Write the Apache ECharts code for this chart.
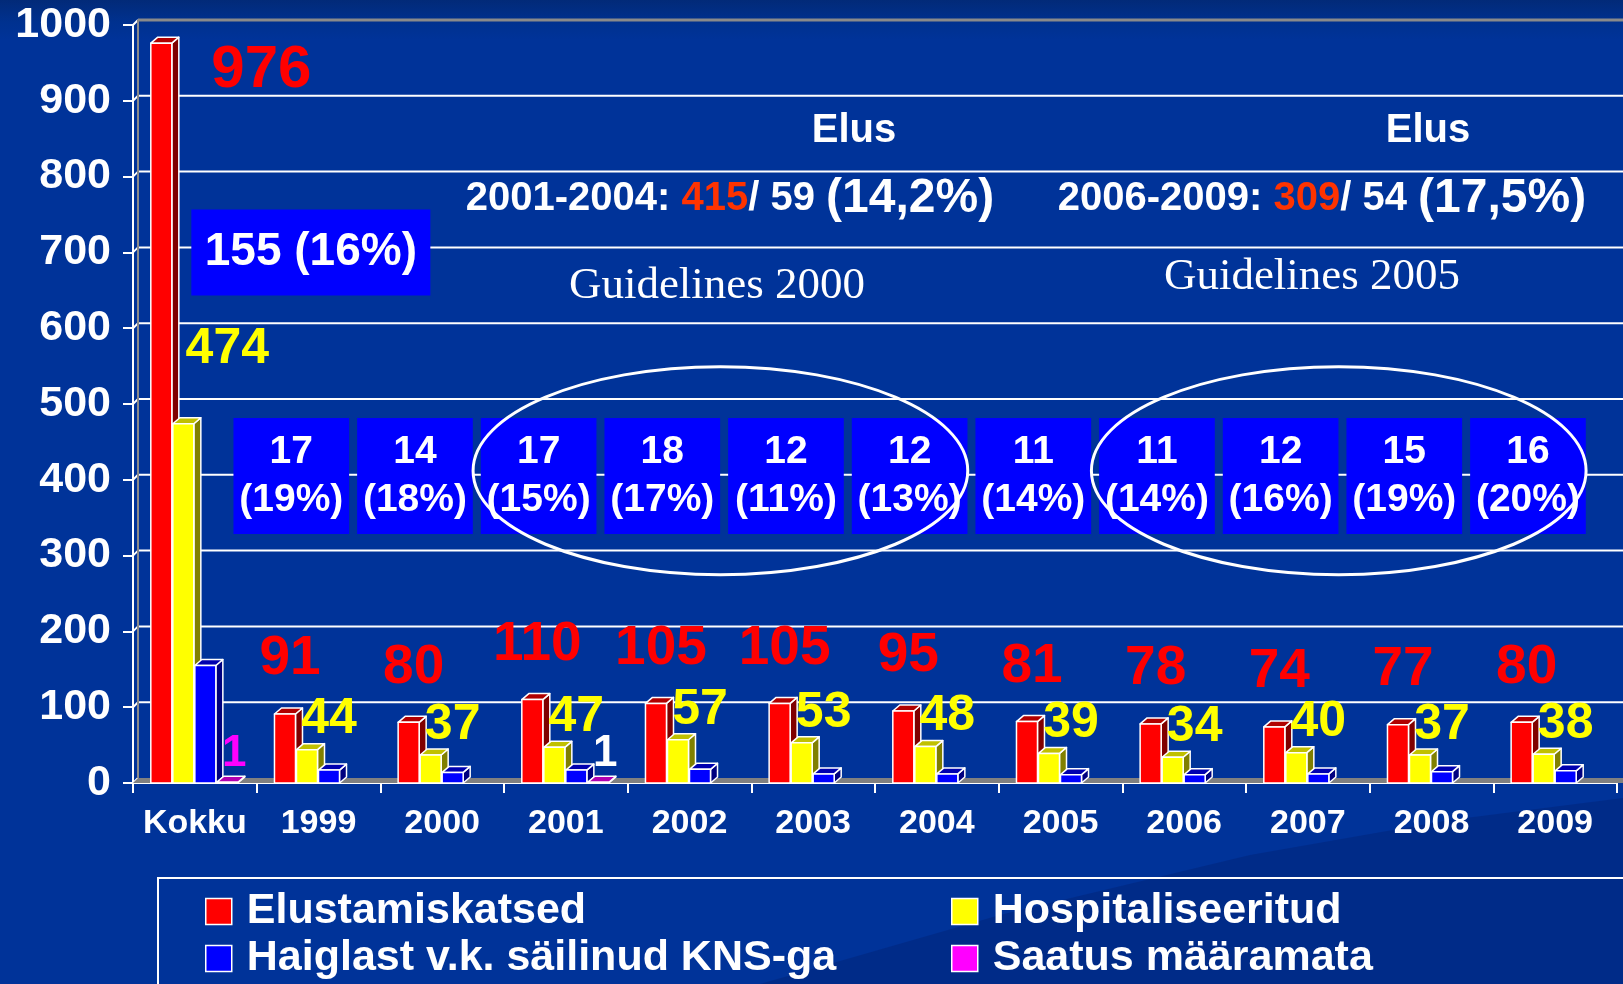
<!DOCTYPE html>
<html>
<head>
<meta charset="utf-8">
<script src="https://cdn.jsdelivr.net/npm/echarts@6/dist/echarts.min.js"></script>
<style>
  html, body { margin: 0; padding: 0; }
  #main { width: 1623px; height: 984px; background: linear-gradient(to bottom, #022a78 0px, #00318f 22px, #003399 40px, #003399 100%); }
</style>
</head>
<body>
<div id="main"></div>
<script>
// andmed
const categories = ['Kokku', '1999', '2000', '2001', '2002', '2003', '2004', '2005', '2006', '2007', '2008', '2009'];
const attempts = [976, 91, 80, 110, 105, 105, 95, 81, 78, 74, 77, 80];      // Elustamiskatsed
const hospitalised = [474, 44, 37, 47, 57, 53, 48, 39, 34, 40, 37, 38];    // Hospitaliseeritud
const survivedCns = [155, 17, 14, 17, 18, 12, 12, 11, 11, 12, 15, 16];     // Haiglast v.k. säilinud KNS-ga
const undetermined = [1, 0, 0, 1, 0, 0, 0, 0, 0, 0, 0, 0];                // Saatus määramata
const yTicks = [0, 100, 200, 300, 400, 500, 600, 700, 800, 900, 1000];
const periods = [
  { label: '2001-2004', from: 3, to: 6, guideline: 'Guidelines 2000' },
  { label: '2006-2009', from: 8, to: 11, guideline: 'Guidelines 2005' }
];

const FONT = '"Liberation Sans", Arial, sans-serif';
const SERIF = '"Liberation Serif", "Times New Roman", serif';
const DX = 7, DY = -6;

const sum = (arr, a, b) => arr.slice(a, b + 1).reduce((s, v) => s + v, 0);
const pct = (a, b) => Math.round(a / b * 100);

const chart = echarts.init(document.getElementById('main'));

function txt(text, x, y, color, size, extra) {
  return {
    type: 'text', x: x, y: y, z2: 10,
    style: Object.assign({
      text: text, fill: color, font: 'bold ' + size + 'px ' + FONT,
      align: 'center', verticalAlign: 'middle'
    }, extra || {})
  };
}

// 3D tulp: esikülg, pealmine ja külgmine tahk
function bar3d(name, values, slot, colors, labelFor) {
  return {
    type: 'custom',
    name: name,
    z: 3,
    itemStyle: { color: colors[0], borderColor: '#fff', borderWidth: 1.5 },
    data: values.map((v, i) => [i, v]),
    renderItem: function (params, api) {
      const i = api.value(0), v = api.value(1);
      const band = api.size([1, 0])[0];
      const base = api.coord([i, 0]);
      const tip = api.coord([i, v]);
      const slotW = band * 0.178;
      const x0 = base[0] + (slot - 1.5) * slotW - slotW / 2;
      const w = slotW - 1;
      const kids = [];
      if (v > 0) {
        const y0 = base[1], y1 = tip[1];
        const edge = { stroke: '#fff', lineWidth: 1.5, lineJoin: 'round' };
        kids.push(
          { type: 'polygon', shape: { points: [[x0 + w, y1], [x0 + w + DX, y1 + DY], [x0 + w + DX, y0 + DY], [x0 + w, y0]] }, style: Object.assign({ fill: colors[2] }, edge) },
          { type: 'polygon', shape: { points: [[x0, y1], [x0 + DX, y1 + DY], [x0 + w + DX, y1 + DY], [x0 + w, y1]] }, style: Object.assign({ fill: colors[1] }, edge) },
          { type: 'rect', shape: { x: x0, y: y1, width: w, height: y0 - y1 }, style: Object.assign({ fill: colors[0] }, edge) }
        );
      }
      const lab = labelFor(i, v, { x: x0 + w / 2, top: tip[1], band: band, center: base[0], api: api });
      if (lab) kids.push.apply(kids, [].concat(lab));
      return { type: 'group', children: kids };
    }
  };
}

function blueBox(cx, cy, w, h, text, size, lineHeight) {
  return [
    { type: 'rect', z2: 9, shape: { x: cx - w / 2, y: cy - h / 2, width: w, height: h }, style: { fill: '#0000FF' } },
    txt(text, cx, cy, '#fff', size, { lineHeight: lineHeight })
  ];
}

const series = [
  // tagasein, põrand ja abijooned
  {
    type: 'custom', z: 1, silent: true, data: [[0, 0]],
    renderItem: function (params, api) {
      const cs = params.coordSys;
      const right = cs.x + cs.width + 20;
      const yOf = v => api.coord([0, v])[1];
      const kids = [];
      yTicks.forEach(v => {
        const y = yOf(v);
        kids.push({ type: 'line', shape: { x1: cs.x, y1: y, x2: cs.x + 5, y2: y - 5 }, style: { stroke: '#fff', lineWidth: 2 } });
        if (v > 0 && v < 1000) {
          kids.push({ type: 'line', shape: { x1: cs.x + 5, y1: y - 5, x2: right, y2: y - 5 }, style: { stroke: '#fff', lineWidth: 2 } });
        }
      });
      kids.push({ type: 'line', shape: { x1: cs.x + 5, y1: yOf(1000) - 5, x2: right, y2: yOf(1000) - 5 }, style: { stroke: '#8a8a8a', lineWidth: 3 } });
      kids.push({ type: 'line', shape: { x1: cs.x + 5, y1: yOf(1000) - 5, x2: cs.x + 5, y2: yOf(0) - 5 }, style: { stroke: '#8a8a8a', lineWidth: 2 } });
      kids.push({ type: 'polygon', shape: { points: [[cs.x, yOf(0)], [cs.x + 5, yOf(0) - 5], [right, yOf(0) - 5], [right, yOf(0)]] }, style: { fill: '#808080' } });
      return { type: 'group', children: kids };
    }
  },
  bar3d('Elustamiskatsed', attempts, 0, ['#FF0000', '#B00000', '#800000'], function (i, v, g) {
    if (i === 0) return txt(String(v), g.x + 100, g.api.coord([0, 940])[1], '#FF0000', 60);
    return txt(String(v), g.x + 5, g.top - 55, '#FF0000', 55);
  }),
  bar3d('Hospitaliseeritud', hospitalised, 1, ['#FFFF00', '#C0C000', '#808000'], function (i, v, g) {
    if (i === 0) return txt(String(v), g.x + 44, g.api.coord([0, 572])[1], '#FFFF00', 50);
    return txt(String(v), g.x + 22, g.top - 30, '#FFFF00', 50);
  }),
  bar3d('Haiglast v.k. säilinud KNS-ga', survivedCns, 2, ['#0000FF', '#0000B0', '#000080'], function (i, v, g) {
    if (i === 0) {
      return blueBox(g.center + 116, g.api.coord([0, 700])[1], 239, 86, v + ' (' + pct(v, attempts[i]) + '%)', 46, 50);
    }
    return blueBox(g.center - 0.22 * g.band, g.api.coord([0, 405])[1], g.band - 8, 116, v + '\n(' + pct(v, attempts[i]) + '%)', 39, 48);
  }),
  bar3d('Saatus määramata', undetermined, 3, ['#FF00FF', '#B000B0', '#800080'], function (i, v, g) {
    if (v <= 0) return null;
    return txt(String(v), g.x + 7, g.top - 28, i === 0 ? '#FF00FF' : '#FFFFFF', 44);
  }),
  // ovaalid perioodide ümber
  {
    type: 'custom', z: 6, silent: true, data: [[0, 0]],
    renderItem: function (params, api) {
      const band = api.size([1, 0])[0];
      return {
        type: 'group',
        children: periods.map(p => {
          let cx = 0;
          for (let i = p.from; i <= p.to; i++) cx += api.coord([i, 0])[0];
          cx = cx / (p.to - p.from + 1) - 0.25 * band;
          return { type: 'ellipse', shape: { cx: cx, cy: api.coord([0, 412])[1], rx: band * 2, ry: 104 }, style: { fill: 'none', stroke: '#fff', lineWidth: 3 } };
        })
      };
    }
  }
];

// taustakaar, legendi raam ja pealkirjatekstid
const graphic = [
  { type: 'polygon', z: -10, silent: true, shape: { points: [[760, 984], [1000, 915], [1250, 855], [1450, 820], [1623, 798], [1623, 984]] }, style: { fill: 'rgba(0,25,100,0.3)' } },
  { type: 'rect', shape: { x: 158, y: 878, width: 1520, height: 150 }, style: { fill: 'none', stroke: '#fff', lineWidth: 2 } }
];
const elusX = [854, 1428], sumX = [730, 1322], guideX = [717, 1312], guideY = [286, 277];
periods.forEach((p, k) => {
  const a = sum(attempts, p.from, p.to);
  const s = sum(survivedCns, p.from, p.to);
  const share = (s / a * 100).toFixed(1).replace('.', ',');
  graphic.push(
    { type: 'text', x: elusX[k], y: 131, style: { text: 'Elus', fill: '#fff', font: 'bold 40px ' + FONT, align: 'center', verticalAlign: 'middle' } },
    {
      type: 'text', x: sumX[k], y: 199,
      style: {
        text: '{w|' + p.label + ': }{r|' + a + '}{w|/ ' + s + ' }{b|(' + share + '%)}',
        align: 'center', verticalAlign: 'middle',
        rich: {
          w: { fill: '#fff', font: 'bold 40px ' + FONT },
          r: { fill: '#FF3300', font: 'bold 40px ' + FONT },
          b: { fill: '#fff', font: 'bold 48px ' + FONT }
        }
      }
    },
    { type: 'text', x: guideX[k], y: guideY[k], style: { text: p.guideline, fill: '#fff', font: '45px ' + SERIF, align: 'center', verticalAlign: 'middle' } }
  );
});

const legendBase = {
  orient: 'vertical', top: 890, height: 94, padding: 0, itemWidth: 26, itemHeight: 26, itemGap: 4, icon: 'rect',
  selectedMode: false,
  itemStyle: { borderColor: '#fff', borderWidth: 1.5 },
  textStyle: { color: '#fff', fontSize: 43, lineHeight: 43, fontWeight: 'bold', fontFamily: FONT, padding: [0, 0, 0, 10] }
};

const option = {
  animation: false,
  grid: { left: 133, right: 6, top: 25, bottom: 201, containLabel: false, outerBoundsMode: 'none' },
  legend: [
    Object.assign({}, legendBase, { left: 205, data: ['Elustamiskatsed', 'Haiglast v.k. säilinud KNS-ga'] }),
    Object.assign({}, legendBase, { left: 951, data: ['Hospitaliseeritud', 'Saatus määramata'] })
  ],
  xAxis: {
    type: 'category',
    data: categories,
    axisLine: { lineStyle: { color: '#fff', width: 2 } },
    axisTick: { show: true, length: 10, lineStyle: { color: '#fff', width: 2 } },
    axisLabel: { interval: 0, color: '#fff', fontSize: 34, fontWeight: 'bold', fontFamily: FONT, margin: 24 },
    splitLine: { show: false }
  },
  yAxis: {
    type: 'value', min: 0, max: 1000, interval: 100,
    axisLine: { show: true, lineStyle: { color: '#fff', width: 2 } },
    axisTick: { show: true, length: 10, lineStyle: { color: '#fff', width: 2 } },
    axisLabel: { color: '#fff', fontSize: 43, fontWeight: 'bold', fontFamily: FONT, margin: 22, formatter: v => String(v) },
    splitLine: { show: false }
  },
  graphic: graphic,
  series: series
};

chart.setOption(option);
</script>
</body>
</html>
